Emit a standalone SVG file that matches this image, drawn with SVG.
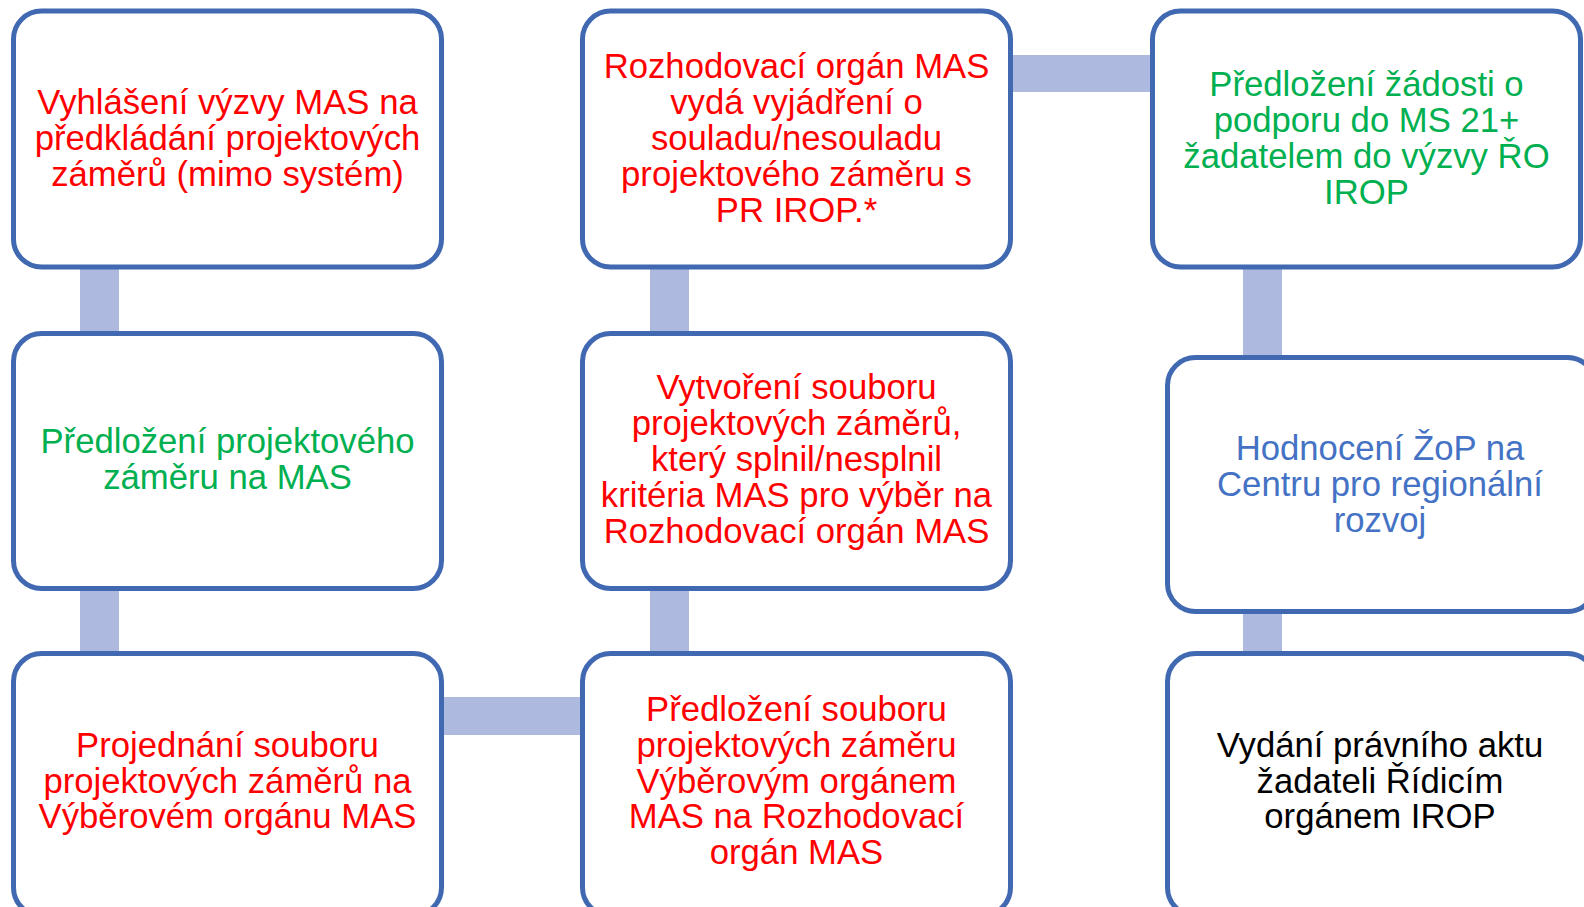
<svg xmlns="http://www.w3.org/2000/svg" width="1584" height="907" viewBox="0 0 1584 907">
<style>
.box{fill:#FFFFFF;stroke:#4169B2;stroke-width:5}
.con{fill:#ADB9DE}
text{font-family:"Liberation Sans",Arial,sans-serif;font-size:34.7px;text-anchor:middle}
.r{fill:#FF0000}.g{fill:#00B050}.b{fill:#4472C4}.k{fill:#000000}
</style>
<rect width="1584" height="907" fill="#FFFFFF"/>
<g id="connectors">
<rect class="con" x="80" y="260" width="39" height="80"/>
<rect class="con" x="80" y="580" width="39" height="80"/>
<rect class="con" x="435" y="697" width="152" height="38"/>
<rect class="con" x="650" y="580" width="39" height="80"/>
<rect class="con" x="650" y="260" width="39" height="80"/>
<rect class="con" x="1005" y="55" width="152" height="37"/>
<rect class="con" x="1243" y="260" width="39" height="105"/>
<rect class="con" x="1243" y="605" width="39" height="55"/>
</g>
<g id="n1">
<rect class="box" x="13.5" y="11" width="428" height="256" rx="28"/>
<text class="r" x="227.5" y="114">Vyhlášení výzvy MAS na</text>
<text class="r" x="227.5" y="150">předkládání projektových</text>
<text class="r" x="227.5" y="186">záměrů (mimo systém)</text>
</g>
<g id="n2">
<rect class="box" x="582.5" y="11" width="428" height="256" rx="28"/>
<text class="r" x="796.5" y="78">Rozhodovací orgán MAS</text>
<text class="r" x="796.5" y="114">vydá vyjádření o</text>
<text class="r" x="796.5" y="150">souladu/nesouladu</text>
<text class="r" x="796.5" y="186">projektového záměru s</text>
<text class="r" x="796.5" y="222">PR IROP.*</text>
</g>
<g id="n3">
<rect class="box" x="1152.5" y="11" width="428" height="256" rx="28"/>
<text class="g" x="1366.5" y="96">Předložení žádosti o</text>
<text class="g" x="1366.5" y="132">podporu do MS 21+</text>
<text class="g" x="1366.5" y="168">žadatelem do výzvy ŘO</text>
<text class="g" x="1366.5" y="204">IROP</text>
</g>
<g id="n4">
<rect class="box" x="13.5" y="333.5" width="428" height="255" rx="28"/>
<text class="g" x="227.5" y="453">Předložení projektového</text>
<text class="g" x="227.5" y="489">záměru na MAS</text>
</g>
<g id="n5">
<rect class="box" x="582.5" y="333.5" width="428" height="255" rx="28"/>
<text class="r" x="796.5" y="399">Vytvoření souboru</text>
<text class="r" x="796.5" y="435">projektových záměrů,</text>
<text class="r" x="796.5" y="471">který splnil/nesplnil</text>
<text class="r" x="796.5" y="507">kritéria MAS pro výběr na</text>
<text class="r" x="796.5" y="543">Rozhodovací orgán MAS</text>
</g>
<g id="n6">
<rect class="box" x="1167.5" y="357.5" width="428" height="254" rx="28"/>
<text class="b" x="1380" y="460">Hodnocení ŽoP na</text>
<text class="b" x="1380" y="496">Centru pro regionální</text>
<text class="b" x="1380" y="532">rozvoj</text>
</g>
<g id="n7">
<rect class="box" x="13.5" y="653.5" width="428" height="262" rx="28"/>
<text class="r" x="227.5" y="757">Projednání souboru</text>
<text class="r" x="227.5" y="793">projektových záměrů na</text>
<text class="r" x="227.5" y="828">Výběrovém orgánu MAS</text>
</g>
<g id="n8">
<rect class="box" x="582.5" y="653.5" width="428" height="262" rx="28"/>
<text class="r" x="796.5" y="721">Předložení souboru</text>
<text class="r" x="796.5" y="757">projektových záměru</text>
<text class="r" x="796.5" y="793">Výběrovým orgánem</text>
<text class="r" x="796.5" y="828">MAS na Rozhodovací</text>
<text class="r" x="796.5" y="864">orgán MAS</text>
</g>
<g id="n9">
<rect class="box" x="1167.5" y="653.5" width="428" height="262" rx="28"/>
<text class="k" x="1380" y="757">Vydání právního aktu</text>
<text class="k" x="1380" y="793">žadateli Řídicím</text>
<text class="k" x="1380" y="828">orgánem IROP</text>
</g>
</svg>
